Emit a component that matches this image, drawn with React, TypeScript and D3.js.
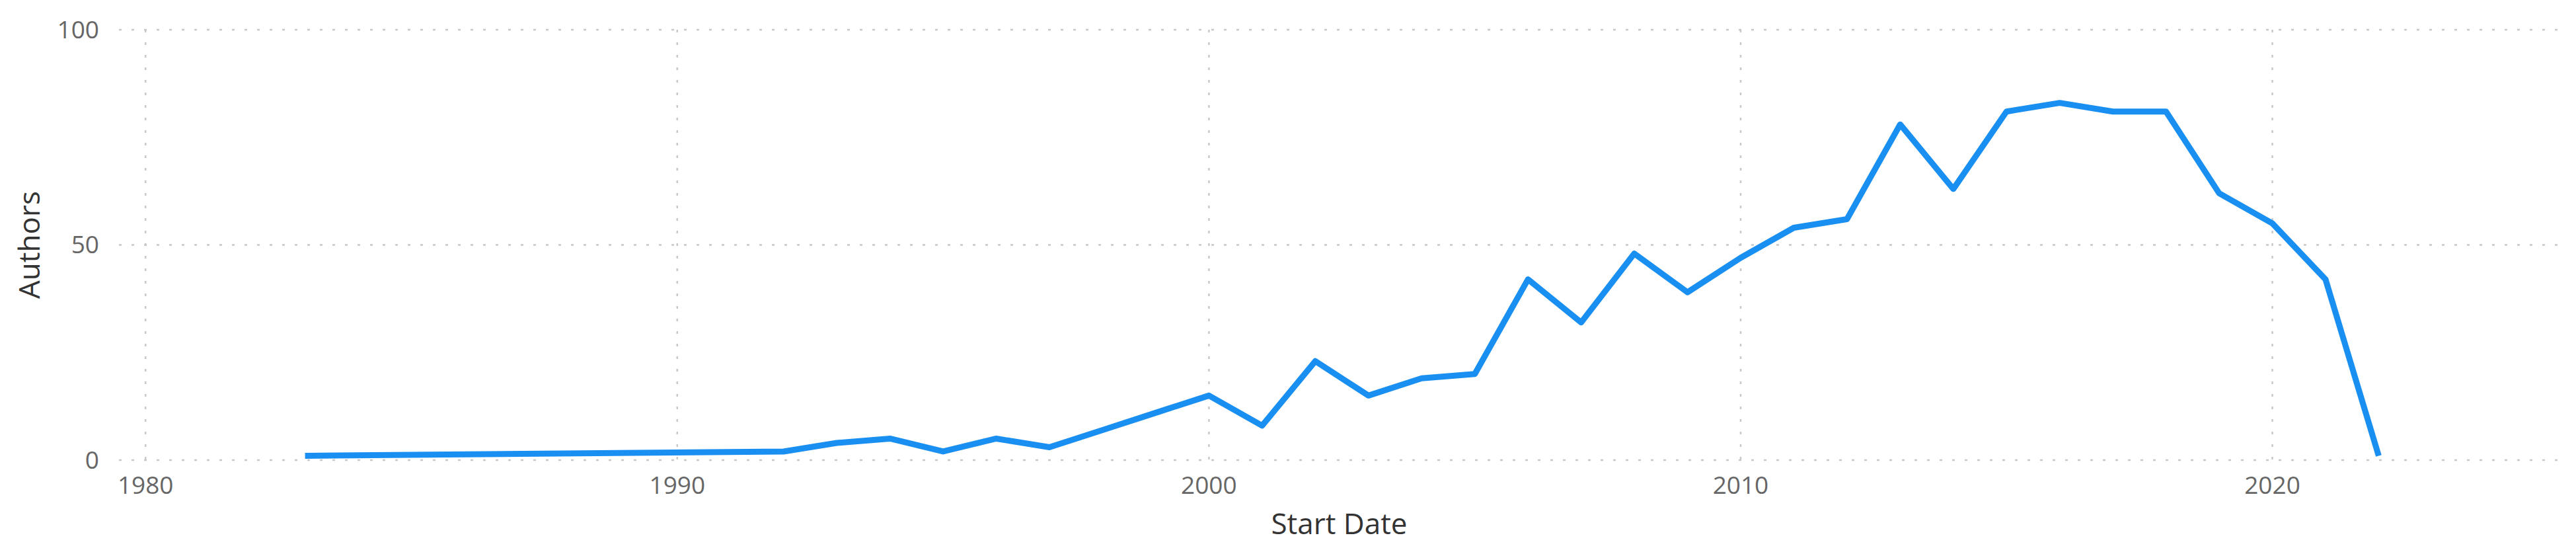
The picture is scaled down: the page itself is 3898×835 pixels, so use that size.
import { useEffect, useRef } from 'react';
import * as d3 from 'd3';

// Authors per start year
const years = [1983, 1992, 1993, 1994, 1995, 1996, 1997, 1998, 1999, 2000, 2001, 2002, 2003, 2004, 2005, 2006, 2007, 2008, 2009, 2010, 2011, 2012, 2013, 2014, 2015, 2016, 2017, 2018, 2019, 2020, 2021, 2022];
const authors = [1, 2, 4, 5, 2, 5, 3, 7, 11, 15, 8, 23, 15, 19, 20, 42, 32, 48, 39, 47, 54, 56, 78, 63, 81, 83, 81, 81, 62, 55, 42, 1];

const xTicks = [1980, 1990, 2000, 2010, 2020];
const yTicks = [0, 50, 100];

const xLabel = 'Start Date';
const yLabel = 'Authors';

export default function App() {
  const svgRef = useRef<SVGSVGElement | null>(null);

  useEffect(() => {
    if (!svgRef.current) return;

    const width = 3898;
    const height = 835;
    const left = 180;
    const right = 3873;
    const top = 45;
    const bottom = 696;
    const font = "'Segoe UI', 'Open Sans', 'Noto Sans', sans-serif";

    const svg = d3.select(svgRef.current);
    svg.selectAll('*').remove();
    svg.attr('width', width).attr('height', height);

    const x = d3.scaleLinear().domain([1979.5, 2025.4]).range([left, right]);
    const y = d3.scaleLinear().domain([0, 100]).range([bottom, top]);

    const data = years.map((yr, i) => ({ year: yr, value: authors[i] }));

    // Gridlines
    const grid = svg.append('g').attr('stroke', '#c8c8c8').attr('stroke-width', 2.5).attr('stroke-dasharray', '4 15');

    grid.selectAll('line.h')
      .data(yTicks)
      .join('line')
      .attr('class', 'h')
      .attr('x1', left)
      .attr('x2', right)
      .attr('y1', d => y(d))
      .attr('y2', d => y(d));

    grid.selectAll('line.v')
      .data(xTicks)
      .join('line')
      .attr('class', 'v')
      .attr('x1', d => x(d))
      .attr('x2', d => x(d))
      .attr('y1', top)
      .attr('y2', bottom);

    // Y tick labels
    svg.append('g')
      .selectAll('text')
      .data(yTicks)
      .join('text')
      .attr('x', 150)
      .attr('y', d => y(d))
      .attr('dy', '0.35em')
      .attr('text-anchor', 'end')
      .attr('fill', '#666666')
      .attr('font-size', 37)
      .attr('font-family', font)
      .text(d => d);

    // X tick labels
    svg.append('g')
      .selectAll('text')
      .data(xTicks)
      .join('text')
      .attr('x', d => x(d))
      .attr('y', 747)
      .attr('text-anchor', 'middle')
      .attr('fill', '#666666')
      .attr('font-size', 37)
      .attr('font-family', font)
      .text(d => d);

    // Axis titles
    svg.append('text')
      .attr('x', (left + right) / 2)
      .attr('y', 808)
      .attr('text-anchor', 'middle')
      .attr('fill', '#333333')
      .attr('font-size', 44)
      .attr('font-family', font)
      .text(xLabel);

    svg.append('text')
      .attr('transform', `translate(60, ${(top + bottom) / 2}) rotate(-90)`)
      .attr('text-anchor', 'middle')
      .attr('fill', '#333333')
      .attr('font-size', 44)
      .attr('font-family', font)
      .text(yLabel);

    // Line
    const line = d3.line<{ year: number; value: number }>()
      .x(d => x(d.year))
      .y(d => y(d.value));

    svg.append('path')
      .datum(data)
      .attr('d', line)
      .attr('fill', 'none')
      .attr('stroke', '#1A8FF2')
      .attr('stroke-width', 9)
      .attr('stroke-linejoin', 'round')
      .attr('stroke-linecap', 'butt');
  }, []);

  return (
    <div style={{ position: 'absolute', left: 0, top: 0, background: '#fff' }}>
      <svg ref={svgRef} style={{ display: 'block' }}></svg>
    </div>
  );
}
